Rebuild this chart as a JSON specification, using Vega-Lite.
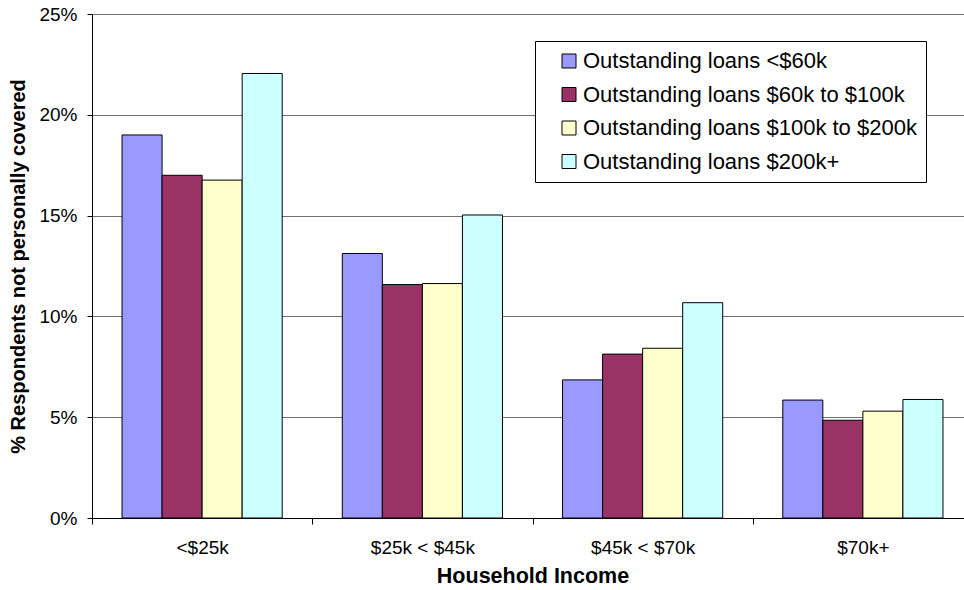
{
  "$schema": "https://vega.github.io/schema/vega-lite/v6.json",
  "autosize": {"type": "none"},
  "width": 871,
  "height": 504,
  "padding": {"left": 92, "top": 14, "right": 1, "bottom": 72},
  "background": "white",
  "config": {
    "font": "Liberation Sans",
    "view": {"stroke": null}
  },
  "data": {
    "values": [
      {"income": "<$25k", "loans": "Outstanding loans <$60k", "pct": 0.190},
      {"income": "<$25k", "loans": "Outstanding loans $60k to $100k", "pct": 0.170},
      {"income": "<$25k", "loans": "Outstanding loans $100k to $200k", "pct": 0.1676},
      {"income": "<$25k", "loans": "Outstanding loans $200k+", "pct": 0.2205},
      {"income": "$25k < $45k", "loans": "Outstanding loans <$60k", "pct": 0.1312},
      {"income": "$25k < $45k", "loans": "Outstanding loans $60k to $100k", "pct": 0.1158},
      {"income": "$25k < $45k", "loans": "Outstanding loans $100k to $200k", "pct": 0.1163},
      {"income": "$25k < $45k", "loans": "Outstanding loans $200k+", "pct": 0.1503},
      {"income": "$45k < $70k", "loans": "Outstanding loans <$60k", "pct": 0.0685},
      {"income": "$45k < $70k", "loans": "Outstanding loans $60k to $100k", "pct": 0.0813},
      {"income": "$45k < $70k", "loans": "Outstanding loans $100k to $200k", "pct": 0.0842},
      {"income": "$45k < $70k", "loans": "Outstanding loans $200k+", "pct": 0.1068},
      {"income": "$70k+", "loans": "Outstanding loans <$60k", "pct": 0.0585},
      {"income": "$70k+", "loans": "Outstanding loans $60k to $100k", "pct": 0.0485},
      {"income": "$70k+", "loans": "Outstanding loans $100k to $200k", "pct": 0.0530},
      {"income": "$70k+", "loans": "Outstanding loans $200k+", "pct": 0.0588}
    ]
  },
  "mark": {"type": "bar", "stroke": "black", "strokeWidth": 1},
  "encoding": {
    "x": {
      "field": "income",
      "type": "nominal",
      "sort": ["<$25k", "$25k < $45k", "$45k < $70k", "$70k+"],
      "scale": {"range": [0, 881], "paddingInner": 0, "paddingOuter": 0},
      "axis": {
        "title": "Household Income",
        "titleFont": "Liberation Sans",
        "titleFontSize": 21.5,
        "titleFontWeight": "bold",
        "titleColor": "black",
        "titlePadding": 8,
        "labelFontSize": 19,
        "labelColor": "black",
        "labelAngle": 0,
        "labelPadding": 14,
        "tickBand": "extent",
        "tickSize": 6,
        "tickColor": "black",
        "domainColor": "black",
        "grid": false
      }
    },
    "xOffset": {
      "field": "loans",
      "type": "nominal",
      "sort": ["Outstanding loans <$60k", "Outstanding loans $60k to $100k", "Outstanding loans $100k to $200k", "Outstanding loans $200k+"],
      "scale": {"paddingInner": 0, "paddingOuter": 0.75}
    },
    "y": {
      "field": "pct",
      "type": "quantitative",
      "scale": {"domain": [0, 0.25], "nice": false},
      "axis": {
        "title": "% Respondents not personally covered",
        "titleFont": "Liberation Sans",
        "titleFontSize": 20,
        "titleFontWeight": "bold",
        "titleColor": "black",
        "titlePadding": 10,
        "format": ".0%",
        "values": [0, 0.05, 0.1, 0.15, 0.2, 0.25],
        "labelFontSize": 19,
        "labelColor": "black",
        "labelPadding": 10,
        "tickSize": 5,
        "tickColor": "black",
        "domainColor": "black",
        "grid": true,
        "gridColor": "#707070",
        "gridWidth": 1
      }
    },
    "color": {
      "field": "loans",
      "type": "nominal",
      "sort": ["Outstanding loans <$60k", "Outstanding loans $60k to $100k", "Outstanding loans $100k to $200k", "Outstanding loans $200k+"],
      "scale": {"range": ["#9999FF", "#993366", "#FFFFCC", "#CCFFFF"]},
      "legend": {
        "title": null,
        "orient": "none",
        "legendX": 443,
        "legendY": 27,
        "symbolType": "square",
        "symbolSize": 196,
        "symbolStrokeColor": "black",
        "symbolStrokeWidth": 1,
        "symbolOffset": 14,
        "labelFontSize": 22,
        "labelColor": "black",
        "labelOffset": 3,
        "labelLimit": 500,
        "labelExpr": "datum.label + '\u00a0\u00a0\u00a0'",
        "rowPadding": 11.5,
        "padding": 9,
        "strokeColor": "black",
        "fillColor": "white",
        "cornerRadius": 0
      }
    }
  }
}
